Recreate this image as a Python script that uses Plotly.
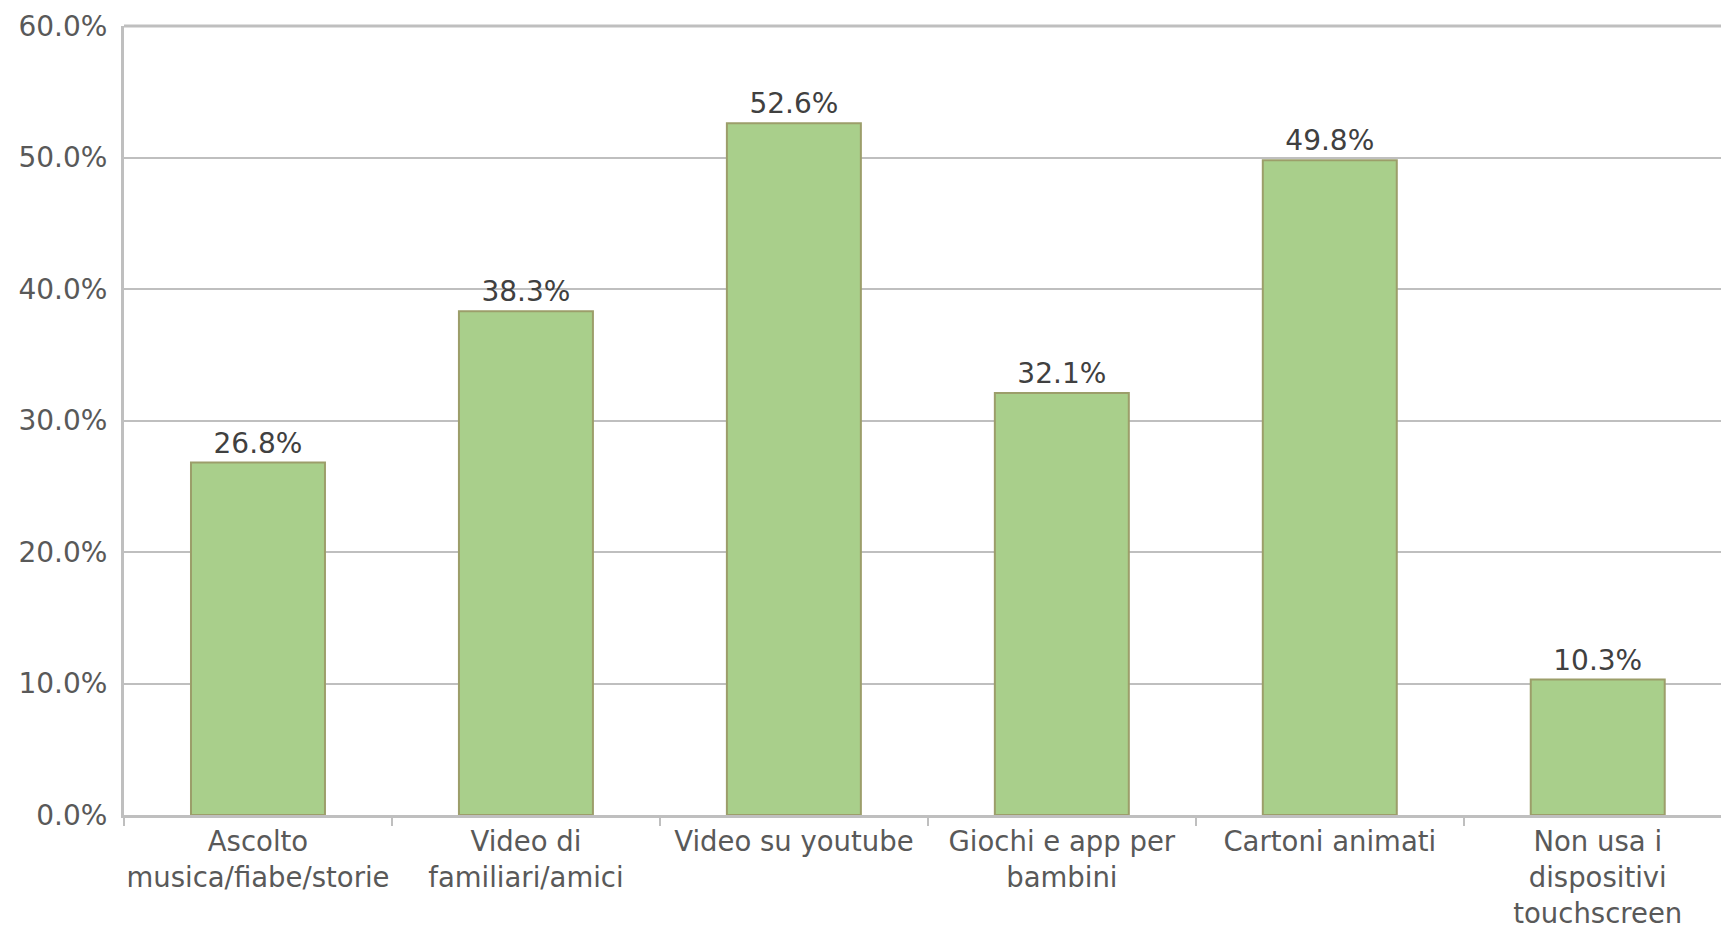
import plotly.graph_objects as go

# Categories (multi-line labels) and percentage values
categories = [
    "Ascolto<br>musica/fiabe/storie",
    "Video di<br>familiari/amici",
    "Video su youtube",
    "Giochi e app per<br>bambini",
    "Cartoni animati",
    "Non usa i<br>dispositivi<br>touchscreen",
]
values = [26.8, 38.3, 52.6, 32.1, 49.8, 10.3]
y_ticks = [0, 10, 20, 30, 40, 50, 60]
y_tick_labels = [f"{v:.1f}%" for v in y_ticks]

FONT = "DejaVu Sans, Liberation Sans, Arial, sans-serif"
GRID = "#BFBFBF"

fig = go.Figure(
    go.Bar(
        x=categories,
        y=values,
        width=0.5,
        marker=dict(color="#A9CF8B", line=dict(color="#9C9E6A", width=2)),
        texttemplate="%{y:.1f}%",
        textposition="outside",
        textfont=dict(family=FONT, size=28, color="#404040"),
        cliponaxis=False,
    )
)

fig.update_layout(
    width=1721,
    height=933,
    margin=dict(l=124, r=0, t=26, b=118),
    paper_bgcolor="white",
    plot_bgcolor="white",
    showlegend=False,
    bargap=0.5,
    font=dict(family=FONT, size=28, color="#595959"),
    xaxis=dict(
        type="category",
        range=[-0.5, 5.46],
        automargin=False,
        tickangle=0,
        showgrid=False,
        showline=True,
        linecolor=GRID,
        linewidth=3,
        ticks="outside",
        tickson="boundaries",
        ticklen=8,
        tickwidth=2,
        tickcolor=GRID,
        ticklabelstandoff=0,
        tickfont=dict(family=FONT, size=27.5, color="#595959"),
    ),
    yaxis=dict(
        range=[0, 60],
        automargin=False,
        tickmode="array",
        tickvals=y_ticks,
        ticktext=y_tick_labels,
        showgrid=True,
        gridcolor=GRID,
        gridwidth=2,
        zeroline=False,
        showline=True,
        linecolor=GRID,
        linewidth=3,
        ticks="",
        ticklabelstandoff=8,
        tickfont=dict(family=FONT, size=28, color="#595959"),
    ),
    shapes=[
        dict(
            type="line", xref="paper", yref="paper",
            x0=0, x1=1, y0=1, y1=1,
            line=dict(color=GRID, width=3),
        )
    ],
)

fig.write_html("out.html")
